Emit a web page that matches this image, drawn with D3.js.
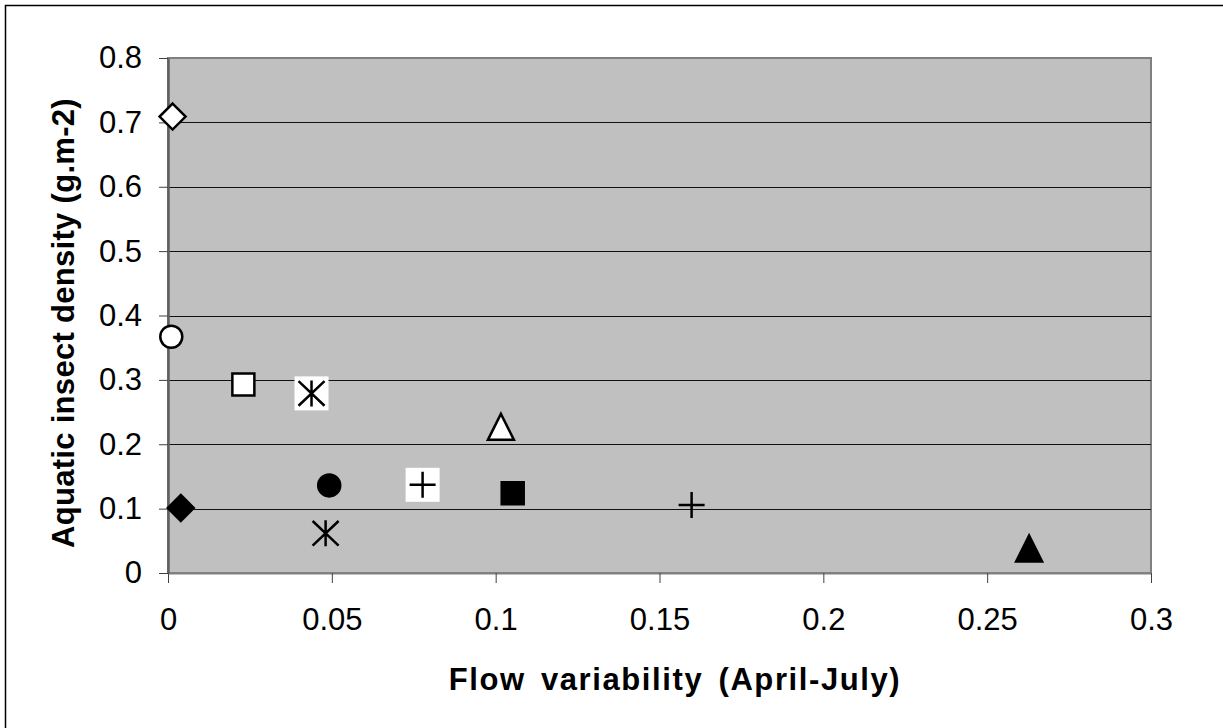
<!DOCTYPE html>
<html>
<head>
<meta charset="utf-8">
<script src="https://cdn.jsdelivr.net/npm/d3@7"></script>
<style>
  html, body { margin: 0; padding: 0; background: #fff; }
  svg { display: block; }
  text { font-family: "Liberation Sans", Arial, sans-serif; fill: #000; }
</style>
</head>
<body>
<svg id="chart" width="1223" height="728"></svg>
<script>
// ---- data ----
const sites  = ["A","B","C","D","E","F","G","H","I","J","K","L"];
const flowVariability = [0.0014, 0.001, 0.023, 0.0438, 0.0039, 0.0492, 0.0481, 0.0777, 0.1016, 0.1052, 0.1598, 0.2628];
const insectDensity   = [0.709, 0.367, 0.293, 0.279, 0.101, 0.136, 0.0616, 0.137, 0.227, 0.124, 0.1056, 0.038];
const markerShapes    = ["diamond","circle","square","asterisk","diamond","circle","asterisk","plus","triangle","square","plus","triangle"];
const markerFills     = ["white","white","white","none","black","black","none","none","white","black","none","black"];
const markerBoxed     = [false,false,false,true,false,false,false,true,false,false,false,false];
const xTicks = [0, 0.05, 0.1, 0.15, 0.2, 0.25, 0.3];
const yTicks = [0, 0.1, 0.2, 0.3, 0.4, 0.5, 0.6, 0.7, 0.8];
const xTitle = "Flow variability (April-July)";
const yTitle = "Aquatic insect density (g.m-2)";

// ---- layout ----
const svg = d3.select("#chart");
const L = 168, R = 1151, T = 58, B = 573;
const x = d3.scaleLinear().domain([0, 0.3]).range([L, R]);
const y = d3.scaleLinear().domain([0, 0.8]).range([B, T]);

// outer frame (only top/left visible in reference)
svg.append("rect").attr("x", 5.5).attr("y", 5.5).attr("width", 1260).attr("height", 760)
  .attr("fill", "none").attr("stroke", "#000").attr("stroke-width", 1.5);

// plot area
svg.append("rect").attr("x", L).attr("y", T).attr("width", R - L).attr("height", B - T)
  .attr("fill", "#c0c0c0").attr("stroke", "#808080").attr("stroke-width", 2);

// gridlines
svg.append("g").selectAll("line").data(yTicks.filter(d => d > 0 && d < 0.8)).join("line")
  .attr("x1", L).attr("x2", R)
  .attr("y1", d => Math.round(y(d)) + 0.5).attr("y2", d => Math.round(y(d)) + 0.5)
  .attr("stroke", "#111").attr("stroke-width", 1);

// axes
const xAxis = d3.axisBottom(x).tickValues(xTicks).tickFormat(d3.format("")).tickSize(10).tickSizeOuter(0).tickPadding(25);
const gx = svg.append("g").attr("transform", `translate(0,${B})`).call(xAxis);
gx.select(".domain").attr("stroke", "#808080").attr("stroke-width", 2);
gx.selectAll(".tick line").attr("stroke", "#404040");
gx.selectAll(".tick text").attr("font-size", 31).attr("font-family", "Liberation Sans, Arial, sans-serif").attr("fill", "#000").attr("dy", "0.71em");

const yAxis = d3.axisLeft(y).tickValues(yTicks).tickFormat(d3.format("")).tickSize(9).tickSizeOuter(0).tickPadding(17);
const gy = svg.append("g").attr("transform", `translate(${L},0)`).call(yAxis);
gy.select(".domain").attr("stroke", "#606060").attr("stroke-width", 2.5);
gy.selectAll(".tick line").attr("stroke", "#404040");
gy.selectAll(".tick text").attr("font-size", 31).attr("font-family", "Liberation Sans, Arial, sans-serif").attr("fill", "#000");

// axis titles
svg.append("text").attr("x", 675).attr("y", 690).attr("text-anchor", "middle")
  .attr("font-size", 31).attr("font-weight", "bold")
  .attr("letter-spacing", 1.6).attr("word-spacing", 5).text(xTitle);
svg.append("text").attr("transform", `translate(74,323) rotate(-90)`).attr("text-anchor", "middle")
  .attr("font-size", 31).attr("font-weight", "bold").attr("letter-spacing", 0.3).text(yTitle);

// markers
function markerPath(shape) {
  const p = d3.path();
  if (shape === "diamond") { const r = 13; p.moveTo(0,-r); p.lineTo(r,0); p.lineTo(0,r); p.lineTo(-r,0); p.closePath(); }
  else if (shape === "circle") { p.arc(0,0,11,0,2*Math.PI); }
  else if (shape === "square") { const s = 11; p.rect(-s,-s,2*s,2*s); }
  else if (shape === "triangle") { p.moveTo(0,-13); p.lineTo(13,13); p.lineTo(-13,13); p.closePath(); }
  else if (shape === "plus") { const r = 13; p.moveTo(-r,0); p.lineTo(r,0); p.moveTo(0,-r); p.lineTo(0,r); }
  else if (shape === "asterisk") { const r = 13; p.moveTo(0,-r); p.lineTo(0,r); p.moveTo(-r,-r*0.95); p.lineTo(r,r*0.95); p.moveTo(-r,r*0.95); p.lineTo(r,-r*0.95); }
  return p.toString();
}
const pts = sites.map((s, i) => ({ x: flowVariability[i], y: insectDensity[i], shape: markerShapes[i], fill: markerFills[i], boxed: markerBoxed[i] }));
const mg = svg.append("g").selectAll("g").data(pts).join("g")
  .attr("transform", d => `translate(${x(d.x)},${y(d.y)})`);
mg.filter(d => d.boxed).append("rect").attr("x", -17).attr("y", -17).attr("width", 34).attr("height", 34).attr("fill", "#fff");
mg.append("path").attr("d", d => markerPath(d.shape))
  .attr("fill", d => d.fill)
  .attr("stroke", "#000")
  .attr("stroke-width", 2.5)
  .attr("stroke-linejoin", "miter");
</script>
</body>
</html>
